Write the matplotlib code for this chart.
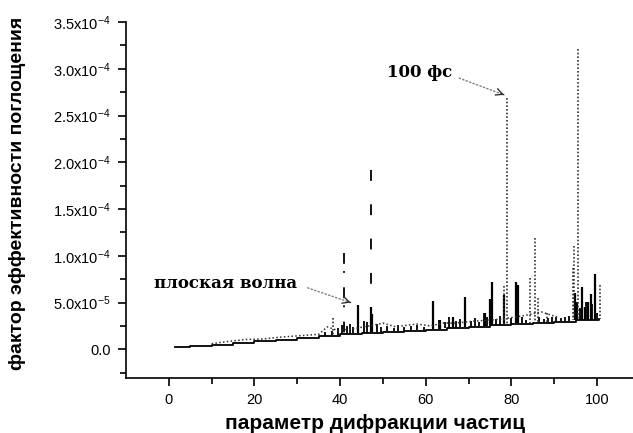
import numpy as np
import matplotlib
matplotlib.use("Agg")
import matplotlib.pyplot as plt

# baseline of the plane-wave curve (y in units of 1e-5)
base_x = [1.5, 5, 10, 15, 20, 25, 30, 35, 40, 45, 50, 55, 60, 65, 70, 75, 80, 85, 90, 95, 100.5]
base_y = [0.2, 0.3, 0.5, 0.7, 0.85, 1.0, 1.2, 1.4, 1.6, 1.75, 1.9, 2.0, 2.1, 2.25, 2.4, 2.55, 2.75, 2.85, 2.95, 3.1, 3.2]

# plane wave: big spikes
wave_x = [44.2, 47.1, 47.4, 61.8, 63.3, 66.4, 69.2, 73.8, 75.0, 75.5, 78.3, 81.0, 81.5, 94.9, 95.3, 96.4, 97.2, 97.8, 98.5, 99.5]
wave_top = [4.7, 4.5, 3.8, 5.2, 3.1, 3.5, 5.6, 3.85, 5.4, 7.2, 5.8, 7.2, 6.9, 6.0, 5.1, 6.7, 4.5, 5.1, 5.9, 8.1]

# plane wave: small spikes along the baseline
noise_x = [36.5, 38, 39.5, 40.5, 41.5, 42.3, 43, 45.5, 46.2, 48.5, 49.5, 51, 52.5, 53.5, 55, 56.5, 58, 59.5,
           63, 64.5, 65.5, 67, 68, 70.5, 71.5, 72.5, 73.5, 74.2, 76.5, 77.3, 80, 82.5, 83.5, 86.5, 87.5,
           88.5, 89.5, 90.5, 91.5, 92.5, 93.5, 96, 97.5, 98.8, 100]
noise_top = [1.9, 2.0, 2.3, 2.6, 2.5, 2.7, 2.4, 3.0, 2.9, 2.7, 2.4, 2.5, 2.3, 2.6, 2.4, 2.5, 2.6, 2.4,
             3.1, 2.9, 3.5, 3.0, 3.2, 3.0, 3.3, 2.9, 3.85, 3.4, 3.2, 3.6, 3.3, 3.5, 3.1, 3.4, 3.2,
             3.3, 3.4, 3.5, 3.3, 3.4, 3.6, 4.4, 5.1, 4.8, 3.9]

# 100 fs pulse (dotted)
fs_x = [38.4, 78.3, 79.0, 84.3, 85.4, 86.2, 88.2, 94.4, 94.7, 95.5, 100.7]
fs_top = [3.3, 6.8, 26.9, 7.6, 11.9, 5.5, 3.85, 8.7, 11.0, 32.1, 6.85]
fs_line_x = [10, 14, 18, 22, 26, 29, 32, 35, 37, 39.5, 43, 48, 50, 53, 56, 58, 61, 64, 67, 71, 74, 77, 83, 87, 91]
fs_line_y = [0.6, 0.85, 1.05, 1.1, 1.3, 1.4, 1.5, 1.6, 2.4, 2.0, 2.2, 2.6, 2.8, 2.4, 2.6, 2.7, 2.5, 2.8, 2.8, 3.0, 3.1, 3.2, 3.6, 4.0, 3.4]

# other pulses
dash_x, dash_top = [47.2], [19.2]
dashdot_x, dashdot_top = [41.0], [10.3]

yticks = [0, 5e-5, 1e-4, 1.5e-4, 2e-4, 2.5e-4, 3e-4, 3.5e-4]
ytick_labels = ['0.0', '5.0x10$^{-5}$', '1.0x10$^{-4}$', '1.5x10$^{-4}$', '2.0x10$^{-4}$',
                '2.5x10$^{-4}$', '3.0x10$^{-4}$', '3.5x10$^{-4}$']
xticks = [0, 20, 40, 60, 80, 100]

plt.rcParams['mathtext.default'] = 'regular'
plt.rcParams['font.family'] = 'Liberation Sans'

sc = 1e-5
bx = np.array(base_x)
by = np.array(base_y) * sc


def foot(x):
    return np.interp(x, bx, by)


fig = plt.figure(figsize=(6.33, 4.33), dpi=100)
ax = fig.add_axes([126 / 633, 55 / 433, 507 / 633, 356 / 433])

ax.plot(bx, by, color='black', lw=1.3, drawstyle='steps-post')
ax.vlines(noise_x, foot(noise_x), np.array(noise_top) * sc, color='black', lw=1.3)
ax.vlines(wave_x, foot(wave_x), np.array(wave_top) * sc, color='black', lw=1.6)

# patterned spikes are drawn top-down so the pattern starts at the peak
ax.plot(fs_line_x, np.array(fs_line_y) * sc, color='#333333', lw=1.1, linestyle=(0, (1, 1.5)))
ax.vlines(fs_x, np.array(fs_top) * sc, foot(fs_x), color='#333333', lw=1.2, linestyles=[(0, (1, 1.2))])
ax.vlines(dash_x, np.array(dash_top) * sc, foot(dash_x), color='black', lw=1.3, linestyles=[(0, (6, 13))])
ax.vlines(dashdot_x, np.array(dashdot_top) * sc, foot(dashdot_x), color='black', lw=1.3,
          linestyles=[(0, (6, 4, 1, 8))])

ax.set_xlim(-10, 108.4)
ax.set_ylim(-3.07e-5, 3.5e-4)
ax.spines['top'].set_visible(False)
ax.spines['right'].set_visible(False)
ax.spines['left'].set_linewidth(1.2)
ax.spines['bottom'].set_linewidth(1.2)

ax.set_xticks(xticks)
ax.set_xticks([10, 30, 50, 70, 90], minor=True)
ax.set_yticks(yticks)
ax.set_yticklabels(ytick_labels)
ax.set_yticks(np.arange(-2.5e-5, 3.5e-4, 5e-5), minor=True)
ax.tick_params(which='major', direction='out', length=6, width=1.2, labelsize=10.5, pad=5)
ax.tick_params(which='minor', direction='out', length=4, width=1.2)
ax.tick_params(axis='x', pad=5)

ax.set_xlabel('параметр дифракции частиц', fontsize=15, fontweight='bold')
ax.xaxis.set_label_coords(0.491, -0.1)
ax.set_ylabel('фактор эффективности поглощения', fontsize=14, fontweight='bold')
ax.yaxis.set_label_coords(-0.198, 0.52)

# annotations
ax.text(58.5, 2.955e-4, '100 фс', fontsize=12, fontweight='bold', family='DejaVu Serif',
        ha='center', va='center')
ax.annotate('', xy=(78.9, 2.71e-4), xytext=(67.2, 2.91e-4),
            arrowprops=dict(arrowstyle='-', color='gray', lw=1, linestyle=':'))
ax.annotate('', xy=(78.9, 2.71e-4), xytext=(77.5, 2.735e-4),
            arrowprops=dict(arrowstyle='->', color='#333333', lw=1, mutation_scale=12))

ax.text(13.2, 7.07e-5, 'плоская волна', fontsize=12, fontweight='bold', family='DejaVu Serif',
        ha='center', va='center')
ax.annotate('', xy=(43.1, 4.89e-5), xytext=(31.8, 6.67e-5),
            arrowprops=dict(arrowstyle='-', color='gray', lw=1, linestyle=':'))
ax.annotate('', xy=(43.1, 4.89e-5), xytext=(41.7, 5.11e-5),
            arrowprops=dict(arrowstyle='->', color='#333333', lw=1, mutation_scale=12))

fig.savefig('out.png', dpi=100)
